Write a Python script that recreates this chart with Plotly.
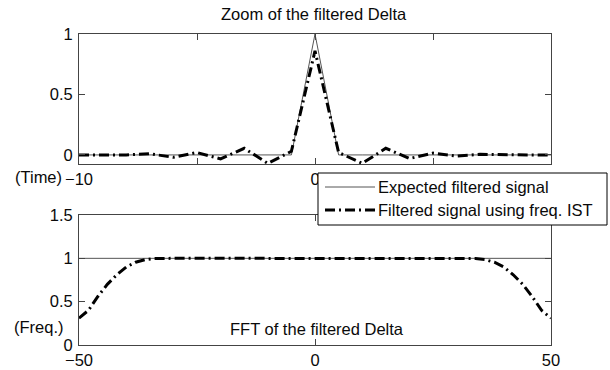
import plotly.graph_objects as go

# Time-domain zoom: samples at integer times -10..10
time_idx = [-10, -9, -8, -7, -6, -5, -4, -3, -2, -1, 0, 1, 2, 3, 4, 5, 6, 7, 8, 9, 10]
expected_time = [0, 0, 0, 0, 0, 0, 0, 0, 0, 0, 1, 0, 0, 0, 0, 0, 0, 0, 0, 0, 0]
filtered_time = [0.0, 0.0, 0.0, 0.01, -0.02, 0.02, -0.033, 0.055, -0.07, 0.03, 0.86,
                 0.02, -0.07, 0.055, -0.03, 0.015, -0.01, 0.005, 0.0, 0.0, 0.0]

# Frequency-domain magnitude
freq_idx = [-50, -48, -46, -44, -42, -40, -38, -36, -34, -32, -30, -20, -10, 0,
            10, 20, 30, 32, 34, 36, 38, 40, 42, 44, 46, 48, 50]
expected_freq = [1.0] * len(freq_idx)
filtered_freq = [0.31, 0.40, 0.56, 0.70, 0.81, 0.90, 0.955, 0.985, 0.997, 1.0, 1.0, 1.0, 1.0, 1.0,
                 1.0, 1.0, 1.0, 1.0, 0.997, 0.985, 0.955, 0.90, 0.81, 0.70, 0.56, 0.40, 0.31]

series_names = ["Expected filtered signal", "Filtered signal using freq. IST"]

top_xticks = [-10, -5, 0, 5, 10]
top_xlabels = ["\u221210", "", "0", "", "10"]
top_yticks = [0, 0.5, 1]
top_ylabels = ["0", "0.5", "1"]
bot_xticks = [-50, 0, 50]
bot_xlabels = ["\u221250", "0", "50"]
bot_yticks = [0, 0.5, 1, 1.5]
bot_ylabels = ["0", "0.5", "1", "1.5"]

W, H = 610, 370
FONT = "Liberation Sans, Arial, Helvetica, sans-serif"
FS = 16.5
TXT = "#0a0a0a"
SOLID = "#555555"
DASHDOT = "10px,4px,2px,4px"
styles = [dict(color=SOLID, width=1), dict(color="black", width=3, dash=DASHDOT)]

fig = go.Figure()

fig.add_trace(go.Scatter(x=time_idx, y=expected_time, mode="lines", name=series_names[0],
                         line=styles[0], xaxis="x", yaxis="y"))
fig.add_trace(go.Scatter(x=time_idx, y=filtered_time, mode="lines", name=series_names[1],
                         line=styles[1], xaxis="x", yaxis="y"))
fig.add_trace(go.Scatter(x=freq_idx, y=expected_freq, mode="lines", name=series_names[0],
                         line=styles[0], xaxis="x2", yaxis="y2"))
fig.add_trace(go.Scatter(x=freq_idx, y=filtered_freq, mode="lines", name=series_names[1],
                         line=styles[1], xaxis="x2", yaxis="y2"))

def px_x(p):
    return p / W

def px_y(p):
    return 1 - p / H

axis_common = dict(showline=True, linecolor="#444444", linewidth=1, mirror="ticks",
                   ticks="inside", ticklen=6, tickcolor="#444444", showgrid=False, zeroline=False,
                   automargin=False,
                   tickfont=dict(family=FONT, size=FS, color=TXT), fixedrange=True)

fig.update_layout(
    width=W, height=H,
    margin=dict(l=0, r=0, t=0, b=0, autoexpand=False),
    paper_bgcolor="white", plot_bgcolor="white",
    font=dict(family=FONT, size=FS, color=TXT),
    xaxis=dict(domain=[px_x(79), px_x(551)], range=[-10, 10], anchor="y", ticklabelstandoff=0,
               tickmode="array", tickvals=top_xticks, ticktext=top_xlabels, **axis_common),
    yaxis=dict(domain=[px_y(164), px_y(34)], range=[-0.075, 1], anchor="x", ticklabelstandoff=2,
               tickmode="array", tickvals=top_yticks, ticktext=top_ylabels, **axis_common),
    xaxis2=dict(domain=[px_x(79), px_x(551)], range=[-50, 50], anchor="y2", ticklabelstandoff=0,
                tickmode="array", tickvals=bot_xticks, ticktext=bot_xlabels, **axis_common),
    yaxis2=dict(domain=[px_y(345), px_y(215)], range=[0, 1.5], anchor="x2", ticklabelstandoff=2,
                tickmode="array", tickvals=bot_yticks, ticktext=bot_ylabels, **axis_common),
    showlegend=False,
)

# Legend box drawn over both panels (covers the top panel's "10" label)
box_l, box_t, box_r, box_b = 318, 173, 607, 225
fig.add_shape(type="rect", xref="paper", yref="paper", layer="above",
              x0=px_x(box_l), x1=px_x(box_r), y0=px_y(box_b), y1=px_y(box_t),
              fillcolor="white", line=dict(color="black", width=1))
row_y = [187, 210]
for name, st, ry in zip(series_names, styles, row_y):
    fig.add_shape(type="line", xref="paper", yref="paper", layer="above",
                  x0=px_x(325), x1=px_x(375), y0=px_y(ry), y1=px_y(ry), line=st)
    fig.add_annotation(text=name, xref="paper", yref="paper",
                       x=px_x(376), y=px_y(ry), xanchor="left", yanchor="middle",
                       showarrow=False, font=dict(family=FONT, size=FS, color=TXT))

fig.add_annotation(text="Zoom of the filtered Delta", xref="paper", yref="paper",
                   x=px_x(314), y=px_y(14), xanchor="center", yanchor="middle",
                   showarrow=False, font=dict(family=FONT, size=FS, color=TXT))
fig.add_annotation(text="FFT of the filtered Delta", xref="paper", yref="paper",
                   x=px_x(317), y=px_y(329), xanchor="center", yanchor="middle",
                   showarrow=False, font=dict(family=FONT, size=FS, color=TXT))
fig.add_annotation(text="(Freq.)", xref="paper", yref="paper",
                   x=px_x(12), y=px_y(327), xanchor="left", yanchor="middle",
                   showarrow=False, font=dict(family=FONT, size=FS, color=TXT))
fig.add_annotation(text="(Time)", xref="paper", yref="paper",
                   x=px_x(64), y=px_y(177), xanchor="right", yanchor="middle",
                   showarrow=False, font=dict(family=FONT, size=FS, color=TXT))

fig.write_html("out.html")
